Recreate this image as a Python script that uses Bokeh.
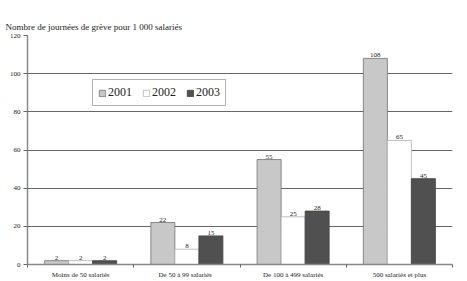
from bokeh.plotting import figure
from bokeh.models import FixedTicker, Range1d, ColumnDataSource, Legend, LegendItem
from bokeh.embed import file_html
from bokeh.resources import INLINE
from bokeh.core.properties import value

categories = ["Moins de 50 salariés", "De  50 à  99 salariés", "De 100 à 499 salariés", "500 salariés et plus"]
years = ["2001", "2002", "2003"]
v2001 = [2, 22, 55, 108]
v2002 = [2, 8, 25, 65]
v2003 = [2, 15, 28, 45]
series = [v2001, v2002, v2003]
colors = ["#c8c8c8", "#ffffff", "#505050"]
line_colors = ["#707070", "#b0b0b0", "#404040"]

FONT = "Liberation Serif"

p = figure(width=467, height=281, output_backend="svg", toolbar_location=None,
           x_range=Range1d(0, 4), y_range=Range1d(0, 120),
           min_border_left=27, min_border_right=15, min_border_top=35, min_border_bottom=16)
p.outline_line_color = None
p.background_fill_color = "white"

p.title.text = "Nombre de journées de grève pour 1 000 salariés"
p.title.text_font = FONT
p.title.text_font_size = "9px"
p.title.text_font_style = "normal"
p.title.text_color = "#222222"
p.title.align = "left"
p.title.offset = -22
p.title.standoff = 8

width = 0.226
offsets = [-width, 0, width]
renderers = []
for k, (yr, vals) in enumerate(zip(years, series)):
    xs = [i + 0.5 + offsets[k] for i in range(len(categories))]
    src = ColumnDataSource(dict(x=xs, top=vals, lab=[str(v) for v in vals]))
    r = p.vbar(x="x", top="top", width=width, source=src, fill_color=colors[k],
               line_color=line_colors[k], line_width=0.8)
    renderers.append((yr, r))
    p.text(x="x", y="top", text="lab", source=src, text_align="center", text_baseline="bottom",
           y_offset=-1, text_font=value(FONT), text_font_size="7px", text_color="#222222")

legend = Legend(items=[LegendItem(label=yr, renderers=[r]) for yr, r in renderers],
                orientation="horizontal", location=(65, 158))
legend.label_text_font = FONT
legend.label_text_font_size = "12px"
legend.label_text_color = "#222222"
legend.glyph_width = 8
legend.glyph_height = 8
legend.label_standoff = 2
legend.spacing = 10
legend.padding = 5
legend.margin = 0
legend.border_line_color = "#666666"
legend.border_line_width = 1
legend.label_height = 10
p.add_layout(legend, "center")

p.xgrid.grid_line_color = None
p.ygrid.grid_line_color = "#666666"
p.ygrid.grid_line_width = 1
p.yaxis.ticker = FixedTicker(ticks=[0, 20, 40, 60, 80, 100, 120])
p.xaxis.ticker = FixedTicker(ticks=[i + 0.5 for i in range(len(categories))],
                             minor_ticks=[0, 1, 2, 3, 4])
p.xaxis.major_label_overrides = {i + 0.5: c for i, c in enumerate(categories)}

for ax in (p.xaxis[0], p.yaxis[0]):
    ax.major_label_text_font = FONT
    ax.major_label_text_font_size = "7px"
    ax.major_label_text_color = "#222222"
    ax.axis_line_color = "#888888"
    ax.axis_line_width = 1.5

p.xaxis.major_tick_out = 0
p.xaxis.major_tick_in = 0
p.xaxis.minor_tick_out = 3
p.xaxis.minor_tick_in = 0
p.xaxis.minor_tick_line_color = "#666666"
p.xaxis.major_label_standoff = 3
p.yaxis.major_tick_out = 4
p.yaxis.major_tick_in = 0
p.yaxis.major_tick_line_color = "#666666"
p.yaxis.minor_tick_line_color = None
p.yaxis.major_label_standoff = 3

open("out.html", "w").write(file_html(p, INLINE))
